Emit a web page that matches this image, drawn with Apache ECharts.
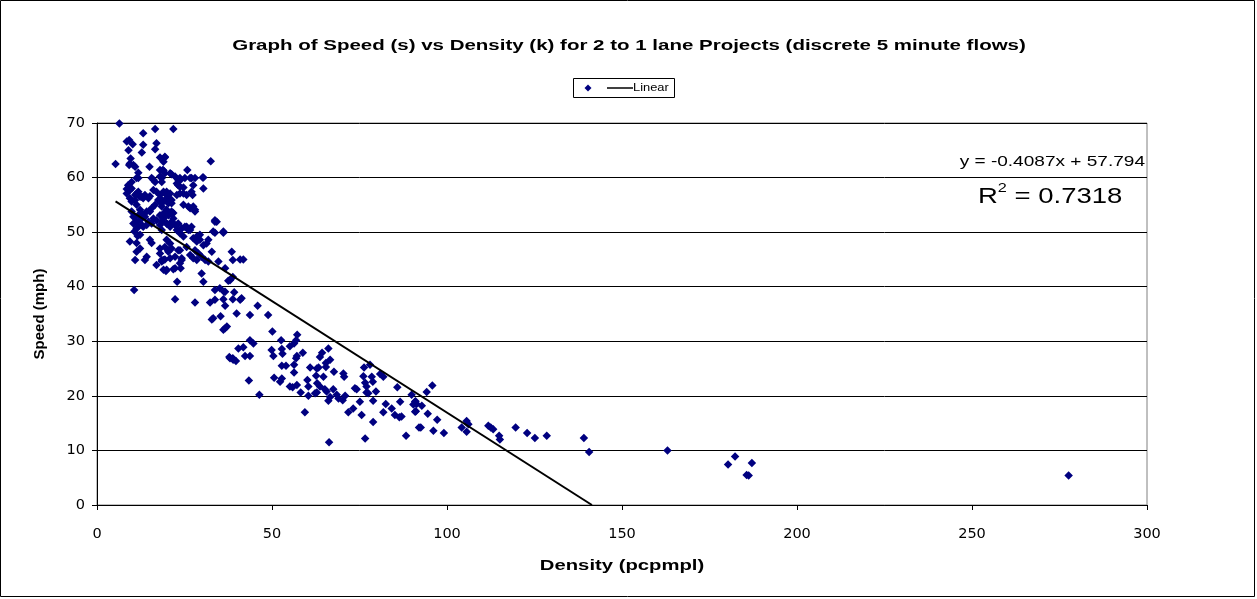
<!DOCTYPE html>
<html>
<head>
<meta charset="utf-8">
<script src="https://cdn.jsdelivr.net/npm/echarts@6/dist/echarts.min.js"></script>
<style>
html,body{margin:0;padding:0;background:#fff;}
#chart{width:1257px;height:599px;}
</style>
</head>
<body>
<div id="chart"></div>
<script>
// ---- Data ----
const chartTitle = 'Graph of Speed (s) vs Density (k) for 2 to 1 lane Projects (discrete 5 minute flows)';
const xAxisTitle = 'Density (pcpmpl)';
const yAxisTitle = 'Speed (mph)';
const xTicks = [0, 50, 100, 150, 200, 250, 300];
const yTicks = [0, 10, 20, 30, 40, 50, 60, 70];
const trendSlope = -0.4087;
const trendIntercept = 57.794;
const trendEquation = 'y = -0.4087x + 57.794';
const rSquared = '0.7318';

// [density, speed]
const upperCluster = [
[6.4,69.9],[5.3,62.5],[13.2,68.1],[16.6,68.9],[21.8,68.9],[32.5,63.0],
[8.5,66.6],[9.2,66.9],[10.2,66.1],[9.0,65.0],[13.2,66.0],[12.8,64.6],[16.6,65.2],[17.0,66.3],[18.0,63.7],[19.4,63.7],
[9.6,63.5],[9.2,62.3],[10.4,62.3],[10.9,62.0],[15.0,62.0],[11.8,60.9],[18.0,61.4],[19.0,61.3],[20.9,60.8],[22.3,60.2],[23.2,59.6],[23.7,59.9],[25.8,61.4],[26.6,59.9],[28.0,59.9],[30.4,60.0],[30.4,58.0],[27.5,58.6],[27.0,57.4],
[9.9,59.2],[9.4,57.7],[8.5,57.9],[11.8,59.9],[15.6,59.9],[16.1,59.6],[18.5,59.9],[19.9,57.4],[20.9,57.1],[20.4,56.2],[21.3,55.9],[22.8,58.9],[23.7,58.3],[24.7,57.1],
[11.3,57.1],[12.3,56.5],[13.2,56.2],[10.9,55.9],[15.1,56.6],[17.5,55.9],[18.5,55.3],[24.7,55.0],[26.1,54.7],[27.5,54.7],[28.0,54.1],[33.7,52.2],[34.2,51.9],[36.1,50.1],[33.2,50.1],
[10.4,52.8],[12.3,52.2],[13.2,51.0],[11.3,50.7],[17.0,52.2],[19.0,52.8],[19.9,51.6],[21.3,51.9],[22.8,50.4],[24.2,50.7],[25.6,51.0],[26.6,50.4],[28.5,49.2],[29.4,49.5],
[19.4,63.8],[19.0,62.9],[18.8,61.4],[19.4,60.8],[21.3,60.6],[23.9,59.6],[25.1,59.9],[27.0,59.9],[30.2,60.0],
[23.2,58.6],[24.7,58.2],[22.8,56.8],[23.7,57.1],[25.6,56.8],[27.3,56.8],
[19.0,57.4],[19.9,56.8],[19.4,55.9],[20.4,55.3],[21.3,55.3],[18.5,54.7],[19.9,54.1],[21.3,53.8],[21.8,53.5],[26.6,54.4],
[8.9,58.6],[9.9,58.0],[8.5,57.1],[10.9,56.8],[11.8,57.4],[12.8,56.5],[13.7,56.8],[14.7,56.2],[9.4,56.2],[9.9,55.6],
[16.1,57.7],[17.0,57.4],[18.0,56.8],[18.5,55.9],[16.6,55.0],[15.6,54.4],[11.3,55.0],[12.3,54.1],[14.2,53.8],
[16.6,59.2],[18.0,60.2],[18.5,59.2],[11.3,59.9],[9.4,62.6]
];
const middleCluster = [
[9.9,53.8],[10.9,52.8],[11.8,53.1],[12.8,53.4],[13.7,52.8],[15.1,53.8],[16.1,52.5],[18.0,53.1],[19.0,52.5],
[10.4,51.6],[11.3,51.9],[11.8,51.0],[12.8,51.3],[14.2,51.3],[14.7,51.9],[15.6,51.6],[18.0,51.3],[18.5,50.4],
[10.7,50.1],[11.6,49.3],[9.4,48.3],[11.3,48.0],[12.3,47.0],[11.3,46.4],[15.1,48.6],[15.6,48.0],[14.2,45.5],[13.7,44.9],[17.0,44.0],[18.5,44.6],[10.9,44.9],[19.0,43.1],[10.6,39.4],
[19.0,53.4],[20.4,53.1],[21.3,53.4],[21.8,52.5],[18.5,51.9],[19.9,51.6],[20.9,51.0],[22.3,51.3],[23.2,51.6],[24.2,50.7],[25.1,51.0],[26.1,50.4],[27.0,51.0],[23.7,49.8],[24.7,49.2],
[28.0,53.8],[33.7,51.9],[33.7,49.9],[36.1,49.9],
[27.5,48.9],[28.5,48.3],[29.4,48.6],[30.4,47.6],[31.3,47.9],[31.8,48.6],[32.8,46.4],[28.0,46.7],[29.0,46.1],[29.9,45.5],
[18.0,46.1],[19.4,47.3],[20.4,46.7],[19.0,44.9],[20.9,45.2],[22.3,45.5],[23.2,46.7],[24.2,44.9],[23.7,44.3],[22.3,43.4],[19.9,43.1],
[29.9,42.4],[30.4,40.9],[22.9,40.9],[33.7,39.4],[35.1,39.7],[36.6,39.1],[22.3,37.7],[28.0,37.1],[32.3,37.1],[33.7,37.6],[36.1,37.7],
[12.3,49.5],[18.0,47.0],[18.5,44.9],[19.4,45.0],[19.7,42.9],[21.8,43.2],[19.9,48.6],[20.9,47.9],[20.4,46.4],[21.3,47.0],[23.7,46.7],[24.2,45.2],[23.9,43.4],
[25.6,47.3],[26.6,45.8],[27.5,45.2],[28.5,44.9],[30.9,44.9],[31.8,44.6],[34.7,44.6],[38.5,46.4],[38.8,44.9],[40.9,45.0],[41.8,45.0],[36.6,43.4],[38.0,41.2],[38.8,41.8],[37.5,41.1],
[39.2,39.0],[38.8,37.7],[40.9,37.6],[41.3,37.9],[36.6,36.5],[39.9,35.1],[43.7,34.8],[45.9,36.5],[32.8,34.0],[33.2,34.2],[35.3,34.6],[36.1,32.1],[36.6,32.4],[37.1,32.7],[43.7,30.2],[44.7,29.6],[40.4,28.7],[41.8,28.9],[42.3,27.3],[43.7,27.3],[37.8,27.1],[38.8,26.9],[48.9,34.8],[36.3,39.1]
];
const lowerCluster = [
[50.1,31.8],[52.6,30.2],[49.9,28.4],[50.4,27.3],[52.8,28.6],[53.0,27.7],[55.1,29.1],[56.3,29.6],[56.9,30.2],[57.2,31.2],[57.1,27.3],[56.9,26.9],[58.8,27.9],[38.0,26.9],[38.9,26.6],[39.7,26.4],[43.4,22.8],[46.4,20.2],
[50.6,23.3],[52.3,22.6],[52.8,23.2],[52.8,25.5],[54.0,25.5],[56.3,25.7],[56.3,24.3],[55.1,21.7],[55.9,21.6],[57.1,22.0],[58.2,20.6],[59.4,17.0],[60.4,20.0],[60.1,22.9],[60.4,21.7],[60.9,25.2],
[62.6,23.7],[62.8,25.0],[63.3,25.2],[63.7,27.1],[64.3,27.9],[66.1,28.7],[66.6,26.6],[65.4,26.0],[65.4,25.3],[62.9,22.3],[63.7,21.7],[62.8,20.6],[62.3,20.5],[64.7,23.5],[65.1,21.2],[65.6,20.8],[66.1,19.1],[66.6,19.8],
[67.5,21.2],[67.7,24.4],[69.0,19.5],[68.5,20.2],[70.4,24.1],[70.6,23.5],[70.2,19.2],[70.9,20.0],[71.8,17.0],[73.2,17.7],[73.7,21.4],[74.2,21.2],[75.1,18.9],[75.6,16.5],[76.3,25.2],[76.1,23.6],[76.6,22.4],[77.0,21.7],
[78.0,25.7],[78.5,23.5],[78.8,22.6],[77.0,20.6],[77.5,20.5],[79.7,20.8],[78.9,15.2],[78.9,19.1],[80.9,24.0],[81.8,23.5],[82.5,18.5],[81.8,17.0],[84.2,17.7],[85.1,16.5],[86.4,16.1],[87.0,16.2],[85.8,21.6],[86.6,18.9],
[89.9,20.2],[90.9,18.9],[91.3,18.5],[90.9,17.1],[92.0,14.2],[66.3,11.5],[76.6,12.2]
];
const tailPoints = [
[88.3,12.7],[90.4,18.4],[91.0,19.0],[91.1,17.2],[92.8,18.2],[94.2,20.7],[95.8,21.9],[92.5,14.2],[94.5,16.7],[96.1,13.6],[97.2,15.6],[99.1,13.2],[104.2,14.2],[105.6,15.4],[106.1,14.8],[105.6,13.4],
[111.8,14.5],[112.5,14.2],[113.2,13.9],[114.9,12.7],[115.1,12.0],[119.6,14.2],[122.9,13.2],[125.1,12.3],[128.5,12.7],[139.1,12.3],[140.6,9.7],
[163.0,10.0],[180.3,7.4],[182.3,8.9],[187.1,7.7],[186.2,5.4],[185.6,5.5],[277.6,5.4]
];

const points = upperCluster.concat(middleCluster, lowerCluster, tailPoints);
const xMin = Math.min.apply(null, points.map(p => p[0]));
const trendLine = [[xMin, trendIntercept + trendSlope * xMin], [-trendIntercept / trendSlope, 0]];

const FONT = '"Liberation Sans", Arial, sans-serif';
const TICKFONT = '"DejaVu Sans", "Liberation Sans", sans-serif';
const chart = echarts.init(document.getElementById('chart'), null, {renderer: 'canvas'});
chart.setOption({
  backgroundColor: '#ffffff',
  animation: false,
  grid: {left: 97, right: 110, top: 123, bottom: 94, show: true, borderColor: '#808080', borderWidth: 1, backgroundColor: 'transparent'},
  xAxis: {
    type: 'value', min: 0, max: 300, interval: 50,
    axisLine: {show: true, onZero: false, lineStyle: {color: '#000', width: 1}},
    axisTick: {show: true, inside: false, length: 5, lineStyle: {color: '#000'}},
    axisLabel: {fontFamily: TICKFONT, fontSize: 14.5, color: '#000', margin: 22,
      formatter: v => xTicks.indexOf(v) >= 0 ? String(v) : ''},
    splitLine: {show: false}
  },
  yAxis: {
    type: 'value', min: 0, max: 70, interval: 10,
    name: yAxisTitle, nameLocation: 'middle', nameGap: 50,
    nameTextStyle: {fontFamily: FONT, fontSize: 15, fontWeight: 'bold', color: '#000'},
    axisLine: {show: true, onZero: false, lineStyle: {color: '#000', width: 1}},
    axisTick: {show: true, inside: false, length: 5, lineStyle: {color: '#000'}},
    axisLabel: {fontFamily: TICKFONT, fontSize: 14.5, color: '#000', margin: 12,
      formatter: v => yTicks.indexOf(v) >= 0 ? String(v) : ''},
    splitLine: {show: true, lineStyle: {color: '#000', width: 1}}
  },
  series: [
    {
      name: 'Observed', type: 'scatter', data: points,
      symbol: 'diamond', symbolSize: 8.5,
      itemStyle: {color: '#000080', opacity: 1}, z: 3
    },
    {
      name: 'Linear', type: 'line', data: trendLine,
      symbol: 'none', lineStyle: {color: '#000', width: 2}, z: 4
    }
  ],
  graphic: [
    {type: 'rect', shape: {x: 0.5, y: 0.5, width: 1254, height: 596}, style: {fill: 'none', stroke: '#000', lineWidth: 1}, silent: true},
    // title
    {type: 'text', x: 629, y: 46, scaleX: 1.366, style: {text: chartTitle, font: 'bold 15px ' + FONT, fill: '#000', align: 'center', verticalAlign: 'middle'}},
    // x axis name
    {type: 'text', x: 622, y: 566, scaleX: 1.35, style: {text: xAxisTitle, font: 'bold 15px ' + FONT, fill: '#000', align: 'center', verticalAlign: 'middle'}},
    // legend box
    {type: 'rect', shape: {x: 573.5, y: 78.5, width: 101, height: 19}, style: {fill: '#fff', stroke: '#000', lineWidth: 1}},
    {type: 'polygon', shape: {points: [[588, 84.5], [591.5, 88], [588, 91.5], [584.5, 88]]}, style: {fill: '#000080'}},
    {type: 'line', shape: {x1: 607, y1: 88, x2: 633, y2: 88}, style: {stroke: '#000', lineWidth: 1.5}},
    {type: 'text', x: 633, y: 88, scaleX: 1.17, style: {text: 'Linear', font: '11px ' + FONT, fill: '#000', align: 'left', verticalAlign: 'middle'}},
    // trendline annotation
    {type: 'text', x: 1145, y: 162, scaleX: 1.27, style: {text: trendEquation, font: '15px ' + FONT, fill: '#000', align: 'right', verticalAlign: 'middle'}},
    {type: 'text', x: 978, y: 195, scaleX: 1.25, style: {
      text: '{a|R}{b|2}{a| = ' + rSquared + '}', align: 'left', verticalAlign: 'middle',
      rich: {
        a: {fontFamily: FONT, fontSize: 22, fill: '#000', color: '#000', verticalAlign: 'bottom', lineHeight: 26},
        b: {fontFamily: FONT, fontSize: 13, fill: '#000', color: '#000', verticalAlign: 'top', lineHeight: 26, padding: [0, 0, 12, 0]}
      }
    }}
  ]
});
</script>
</body>
</html>
